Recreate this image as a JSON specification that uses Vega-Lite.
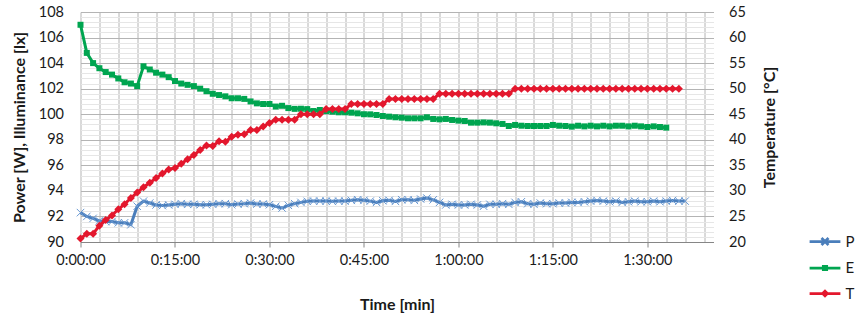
{
  "$schema": "https://vega.github.io/schema/vega-lite/v6.json",
  "width": 633,
  "height": 230,
  "autosize": "none",
  "padding": {"left": 80.5, "top": 12, "right": 148.5, "bottom": 83},
  "background": "white",
  "config": {
    "view": {"stroke": null},
    "font": "Lato",
    "axis": {"labelFont": "Lato", "titleFont": "Lato", "labelFontSize": 14.5, "titleFontSize": 16, "labelColor": "#1a1a1a", "titleColor": "#1a1a1a", "titleFontWeight": "bold"}
  },
  "datasets": {
    "d": [
      {"s":"P","t":0,"v":92.3},{"s":"P","t":1,"v":92.0},{"s":"P","t":2,"v":91.85},{"s":"P","t":3,"v":91.65},{"s":"P","t":4,"v":91.6},{"s":"P","t":5,"v":91.6},{"s":"P","t":6,"v":91.5},{"s":"P","t":7,"v":91.5},{"s":"P","t":8,"v":91.35},{"s":"P","t":9,"v":92.8},
      {"s":"P","t":10,"v":93.2},{"s":"P","t":11,"v":93.05},{"s":"P","t":12,"v":92.9},{"s":"P","t":13,"v":92.85},{"s":"P","t":14,"v":92.9},{"s":"P","t":15,"v":92.95},{"s":"P","t":16,"v":93.0},{"s":"P","t":17,"v":92.95},{"s":"P","t":18,"v":92.95},{"s":"P","t":19,"v":92.92},
      {"s":"P","t":20,"v":92.92},{"s":"P","t":21,"v":92.95},{"s":"P","t":22,"v":93.0},{"s":"P","t":23,"v":93.0},{"s":"P","t":24,"v":92.92},{"s":"P","t":25,"v":92.97},{"s":"P","t":26,"v":93.0},{"s":"P","t":27,"v":93.05},{"s":"P","t":28,"v":92.97},{"s":"P","t":29,"v":92.97},
      {"s":"P","t":30,"v":92.92},{"s":"P","t":31,"v":92.79},{"s":"P","t":32,"v":92.66},{"s":"P","t":33,"v":92.87},{"s":"P","t":34,"v":93.0},{"s":"P","t":35,"v":93.1},{"s":"P","t":36,"v":93.18},{"s":"P","t":37,"v":93.2},{"s":"P","t":38,"v":93.2},{"s":"P","t":39,"v":93.2},
      {"s":"P","t":40,"v":93.18},{"s":"P","t":41,"v":93.2},{"s":"P","t":42,"v":93.2},{"s":"P","t":43,"v":93.26},{"s":"P","t":44,"v":93.31},{"s":"P","t":45,"v":93.26},{"s":"P","t":46,"v":93.2},{"s":"P","t":47,"v":93.1},{"s":"P","t":48,"v":93.23},{"s":"P","t":49,"v":93.26},
      {"s":"P","t":50,"v":93.18},{"s":"P","t":51,"v":93.31},{"s":"P","t":52,"v":93.31},{"s":"P","t":53,"v":93.26},{"s":"P","t":54,"v":93.36},{"s":"P","t":55,"v":93.44},{"s":"P","t":56,"v":93.3},{"s":"P","t":57,"v":93.1},{"s":"P","t":58,"v":92.9},{"s":"P","t":59,"v":92.95},
      {"s":"P","t":60,"v":92.9},{"s":"P","t":61,"v":92.9},{"s":"P","t":62,"v":92.95},{"s":"P","t":63,"v":92.9},{"s":"P","t":64,"v":92.8},{"s":"P","t":65,"v":92.95},{"s":"P","t":66,"v":92.95},{"s":"P","t":67,"v":93.0},{"s":"P","t":68,"v":92.95},{"s":"P","t":69,"v":93.1},
      {"s":"P","t":70,"v":93.15},{"s":"P","t":71,"v":93.0},{"s":"P","t":72,"v":92.95},{"s":"P","t":73,"v":93.05},{"s":"P","t":74,"v":93.0},{"s":"P","t":75,"v":93.0},{"s":"P","t":76,"v":93.05},{"s":"P","t":77,"v":93.05},{"s":"P","t":78,"v":93.1},{"s":"P","t":79,"v":93.1},
      {"s":"P","t":80,"v":93.15},{"s":"P","t":81,"v":93.2},{"s":"P","t":82,"v":93.25},{"s":"P","t":83,"v":93.2},{"s":"P","t":84,"v":93.15},{"s":"P","t":85,"v":93.2},{"s":"P","t":86,"v":93.1},{"s":"P","t":87,"v":93.15},{"s":"P","t":88,"v":93.2},{"s":"P","t":89,"v":93.15},
      {"s":"P","t":90,"v":93.15},{"s":"P","t":91,"v":93.2},{"s":"P","t":92,"v":93.15},{"s":"P","t":93,"v":93.2},{"s":"P","t":94,"v":93.25},{"s":"P","t":95,"v":93.2},{"s":"P","t":96,"v":93.2},

      {"s":"E","t":0,"v":107.0},{"s":"E","t":1,"v":104.8},{"s":"E","t":2,"v":104.0},{"s":"E","t":3,"v":103.6},{"s":"E","t":4,"v":103.3},{"s":"E","t":5,"v":103.1},{"s":"E","t":6,"v":102.8},{"s":"E","t":7,"v":102.5},{"s":"E","t":8,"v":102.4},{"s":"E","t":9,"v":102.2},
      {"s":"E","t":10,"v":103.75},{"s":"E","t":11,"v":103.5},{"s":"E","t":12,"v":103.25},{"s":"E","t":13,"v":103.1},{"s":"E","t":14,"v":102.9},{"s":"E","t":15,"v":102.6},{"s":"E","t":16,"v":102.4},{"s":"E","t":17,"v":102.3},{"s":"E","t":18,"v":102.2},{"s":"E","t":19,"v":102.0},
      {"s":"E","t":20,"v":101.8},{"s":"E","t":21,"v":101.6},{"s":"E","t":22,"v":101.5},{"s":"E","t":23,"v":101.4},{"s":"E","t":24,"v":101.25},{"s":"E","t":25,"v":101.25},{"s":"E","t":26,"v":101.2},{"s":"E","t":27,"v":101.0},{"s":"E","t":28,"v":100.85},{"s":"E","t":29,"v":100.8},
      {"s":"E","t":30,"v":100.8},{"s":"E","t":31,"v":100.6},{"s":"E","t":32,"v":100.66},{"s":"E","t":33,"v":100.48},{"s":"E","t":34,"v":100.42},{"s":"E","t":35,"v":100.43},{"s":"E","t":36,"v":100.4},{"s":"E","t":37,"v":100.25},{"s":"E","t":38,"v":100.33},{"s":"E","t":39,"v":100.25},
      {"s":"E","t":40,"v":100.2},{"s":"E","t":41,"v":100.15},{"s":"E","t":42,"v":100.15},{"s":"E","t":43,"v":100.12},{"s":"E","t":44,"v":100.07},{"s":"E","t":45,"v":100.0},{"s":"E","t":46,"v":99.99},{"s":"E","t":47,"v":99.94},{"s":"E","t":48,"v":99.86},{"s":"E","t":49,"v":99.81},
      {"s":"E","t":50,"v":99.76},{"s":"E","t":51,"v":99.73},{"s":"E","t":52,"v":99.68},{"s":"E","t":53,"v":99.68},{"s":"E","t":54,"v":99.68},{"s":"E","t":55,"v":99.76},{"s":"E","t":56,"v":99.63},{"s":"E","t":57,"v":99.6},{"s":"E","t":58,"v":99.63},{"s":"E","t":59,"v":99.55},
      {"s":"E","t":60,"v":99.5},{"s":"E","t":61,"v":99.47},{"s":"E","t":62,"v":99.34},{"s":"E","t":63,"v":99.34},{"s":"E","t":64,"v":99.36},{"s":"E","t":65,"v":99.34},{"s":"E","t":66,"v":99.29},{"s":"E","t":67,"v":99.24},{"s":"E","t":68,"v":99.08},{"s":"E","t":69,"v":99.16},
      {"s":"E","t":70,"v":99.1},{"s":"E","t":71,"v":99.08},{"s":"E","t":72,"v":99.08},{"s":"E","t":73,"v":99.08},{"s":"E","t":74,"v":99.08},{"s":"E","t":75,"v":99.16},{"s":"E","t":76,"v":99.1},{"s":"E","t":77,"v":99.08},{"s":"E","t":78,"v":99.03},{"s":"E","t":79,"v":99.1},
      {"s":"E","t":80,"v":99.05},{"s":"E","t":81,"v":99.1},{"s":"E","t":82,"v":99.05},{"s":"E","t":83,"v":99.1},{"s":"E","t":84,"v":99.05},{"s":"E","t":85,"v":99.1},{"s":"E","t":86,"v":99.1},{"s":"E","t":87,"v":99.05},{"s":"E","t":88,"v":99.1},{"s":"E","t":89,"v":99.05},
      {"s":"E","t":90,"v":99.0},{"s":"E","t":91,"v":99.05},{"s":"E","t":92,"v":99.0},{"s":"E","t":93,"v":98.95},

      {"s":"T","t":0,"v":20.7},{"s":"T","t":1,"v":21.6},{"s":"T","t":2,"v":21.6},{"s":"T","t":3,"v":23.2},{"s":"T","t":4,"v":24.3},{"s":"T","t":5,"v":25.2},{"s":"T","t":6,"v":26.4},{"s":"T","t":7,"v":27.4},{"s":"T","t":8,"v":28.6},{"s":"T","t":9,"v":29.7},
      {"s":"T","t":10,"v":30.7},{"s":"T","t":11,"v":31.6},{"s":"T","t":12,"v":32.5},{"s":"T","t":13,"v":33.4},{"s":"T","t":14,"v":34.2},{"s":"T","t":15,"v":34.5},{"s":"T","t":16,"v":35.3},{"s":"T","t":17,"v":36.2},{"s":"T","t":18,"v":37.0},{"s":"T","t":19,"v":38.0},
      {"s":"T","t":20,"v":38.9},{"s":"T","t":21,"v":38.8},{"s":"T","t":22,"v":39.7},{"s":"T","t":23,"v":39.6},{"s":"T","t":24,"v":40.6},{"s":"T","t":25,"v":41.0},{"s":"T","t":26,"v":41.1},{"s":"T","t":27,"v":41.9},{"s":"T","t":28,"v":41.9},{"s":"T","t":29,"v":42.6},
      {"s":"T","t":30,"v":43.3},{"s":"T","t":31,"v":43.9},{"s":"T","t":32,"v":43.9},{"s":"T","t":33,"v":43.9},{"s":"T","t":34,"v":43.9},{"s":"T","t":35,"v":45.0},{"s":"T","t":36,"v":45.0},{"s":"T","t":37,"v":45.0},{"s":"T","t":38,"v":45.0},{"s":"T","t":39,"v":46.0},
      {"s":"T","t":40,"v":46.0},{"s":"T","t":41,"v":46.0},{"s":"T","t":42,"v":46.0},{"s":"T","t":43,"v":47.0},{"s":"T","t":44,"v":47.0},{"s":"T","t":45,"v":47.0},{"s":"T","t":46,"v":47.0},{"s":"T","t":47,"v":47.0},{"s":"T","t":48,"v":47.0},{"s":"T","t":49,"v":48.0},
      {"s":"T","t":50,"v":48.0},{"s":"T","t":51,"v":48.0},{"s":"T","t":52,"v":48.0},{"s":"T","t":53,"v":48.0},{"s":"T","t":54,"v":48.0},{"s":"T","t":55,"v":48.0},{"s":"T","t":56,"v":48.0},{"s":"T","t":57,"v":49.0},{"s":"T","t":58,"v":49.0},{"s":"T","t":59,"v":49.0},
      {"s":"T","t":60,"v":49.0},{"s":"T","t":61,"v":49.0},{"s":"T","t":62,"v":49.0},{"s":"T","t":63,"v":49.0},{"s":"T","t":64,"v":49.0},{"s":"T","t":65,"v":49.0},{"s":"T","t":66,"v":49.0},{"s":"T","t":67,"v":49.0},{"s":"T","t":68,"v":49.0},{"s":"T","t":69,"v":50.0},
      {"s":"T","t":70,"v":50.0},{"s":"T","t":71,"v":50.0},{"s":"T","t":72,"v":50.0},{"s":"T","t":73,"v":50.0},{"s":"T","t":74,"v":50.0},{"s":"T","t":75,"v":50.0},{"s":"T","t":76,"v":50.0},{"s":"T","t":77,"v":50.0},{"s":"T","t":78,"v":50.0},{"s":"T","t":79,"v":50.0},
      {"s":"T","t":80,"v":50.0},{"s":"T","t":81,"v":50.0},{"s":"T","t":82,"v":50.0},{"s":"T","t":83,"v":50.0},{"s":"T","t":84,"v":50.0},{"s":"T","t":85,"v":50.0},{"s":"T","t":86,"v":50.0},{"s":"T","t":87,"v":50.0},{"s":"T","t":88,"v":50.0},{"s":"T","t":89,"v":50.0},
      {"s":"T","t":90,"v":50.0},{"s":"T","t":91,"v":50.0},{"s":"T","t":92,"v":50.0},{"s":"T","t":93,"v":50.0},{"s":"T","t":94,"v":50.0},{"s":"T","t":95,"v":50.0}
    ]
  },
  "data": {"name": "d"},
  "encoding": {
    "x": {
      "field": "t", "type": "quantitative",
      "scale": {"domain": [0, 100.5], "nice": false, "zero": false},
      "axis": {
        "values": [0,3,6,9,12,15,18,21,24,27,30,33,36,39,42,45,48,51,54,57,60,63,66,69,72,75,78,81,84,87,90,93,96,99],
        "title": "Time [min]",
        "labelExpr": "datum.value % 15 == 0 ? floor(datum.value/60) + ':' + (datum.value % 60 < 10 ? '0' : '') + (datum.value % 60) + ':00' : ''",
        "labelFlush": false, "labelOverlap": false,
        "grid": true, "gridColor": "#b4b4b4", "gridWidth": 1,
        "domain": true, "domainColor": "#868686", "domainWidth": 1,
        "ticks": true, "tickSize": 5, "tickColor": "#868686",
        "tickOpacity": {"condition": {"test": "datum.value % 15 == 0", "value": 1}, "value": 0},
        "labelPadding": 6, "titlePadding": 30
      }
    }
  },
  "layer": [
    {
      "encoding": {
        "y": {
          "field": "v", "type": "quantitative",
          "scale": {"domain": [90, 108], "nice": false, "zero": false},
          "axis": {
            "orient": "left",
            "values": [90,90.4,90.8,91.2,91.6,92,92.4,92.8,93.2,93.6,94,94.4,94.8,95.2,95.6,96,96.4,96.8,97.2,97.6,98,98.4,98.8,99.2,99.6,100,100.4,100.8,101.2,101.6,102,102.4,102.8,103.2,103.6,104,104.4,104.8,105.2,105.6,106,106.4,106.8,107.2,107.6,108],
            "labelExpr": "round(datum.value*10) % 20 == 0 ? format(datum.value, 'd') : ''",
            "labelOverlap": false,
            "grid": true,
            "gridColor": {"condition": {"test": "round(datum.value*10) % 20 == 0", "value": "#b4b4b4"}, "value": "#e6e6e6"},
            "ticks": false, "domain": false,
            "labelPadding": 17,
            "title": "Power [W], Illuminance [lx]",
            "titlePadding": 11
          }
        }
      },
      "layer": [
        {"transform": [{"filter": "datum.s == 'P'"}], "mark": {"type": "line", "color": "#4a7ebb", "strokeWidth": 3}, "encoding": {}},
        {"transform": [{"filter": "datum.s == 'P'"}], "mark": {"type": "point", "shape": "M-1,-1L1,1M-1,1L1,-1", "size": 56, "filled": false, "stroke": "#6b9ad3", "strokeWidth": 1, "opacity": 1}, "encoding": {}},
        {"transform": [{"filter": "datum.s == 'E'"}], "mark": {"type": "line", "color": "#00a550", "strokeWidth": 3}, "encoding": {}},
        {"transform": [{"filter": "datum.s == 'E'"}], "mark": {"type": "point", "shape": "square", "size": 36, "filled": true, "color": "#00a550", "opacity": 1}, "encoding": {}}
      ]
    },
    {
      "encoding": {
        "y": {
          "field": "v", "type": "quantitative",
          "scale": {"domain": [20, 65], "nice": false, "zero": false},
          "axis": {
            "orient": "right",
            "values": [20,25,30,35,40,45,50,55,60,65],
            "grid": false, "ticks": false, "domain": false,
            "labelPadding": 15,
            "title": "Temperature [°C]",
            "titleAngle": 270, "titleBaseline": "top",
            "titlePadding": 16
          }
        }
      },
      "layer": [
        {"transform": [{"filter": "datum.s == 'T'"}], "mark": {"type": "line", "color": "#e3172d", "strokeWidth": 3}, "encoding": {}},
        {"transform": [{"filter": "datum.s == 'T'"}], "mark": {"type": "point", "shape": "diamond", "size": 64, "filled": true, "color": "#e3172d", "opacity": 1}, "encoding": {}}
      ]
    },
    {
      "transform": [{"filter": "false"}],
      "mark": {"type": "point", "filled": false},
      "encoding": {
        "color": {
          "field": "s", "type": "nominal",
          "scale": {"domain": ["P", "E", "T"], "range": ["#4a7ebb", "#00a550", "#e3172d"]},
          "legend": {"orient": "none", "legendX": 729, "legendY": 214, "title": null, "symbolSize": 784, "symbolStrokeWidth": 2.75, "labelFontSize": 15, "labelFont": "Lato", "labelColor": "#1a1a1a", "labelOffset": 5, "rowPadding": 1.5, "padding": 0, "symbolOpacity": 1}
        },
        "shape": {
          "field": "s", "type": "nominal",
          "scale": {"domain": ["P", "E", "T"], "range": ["M-1.1,0H1.1M-0.25,-0.25L0.25,0.25M-0.25,0.25L0.25,-0.25", "M-1.1,0H1.1M-0.12,-0.12H0.12V0.12H-0.12Z", "M-1.1,0H1.1M-0.17,0L0,-0.17L0.17,0L0,0.17Z"]},
          "legend": {"orient": "none", "legendX": 729, "legendY": 214, "title": null, "symbolSize": 784, "symbolStrokeWidth": 2.75, "labelFontSize": 15, "labelFont": "Lato", "labelColor": "#1a1a1a", "labelOffset": 5, "rowPadding": 1.5, "padding": 0, "symbolOpacity": 1}
        }
      }
    }
  ],
  "resolve": {"scale": {"y": "independent"}}
}
